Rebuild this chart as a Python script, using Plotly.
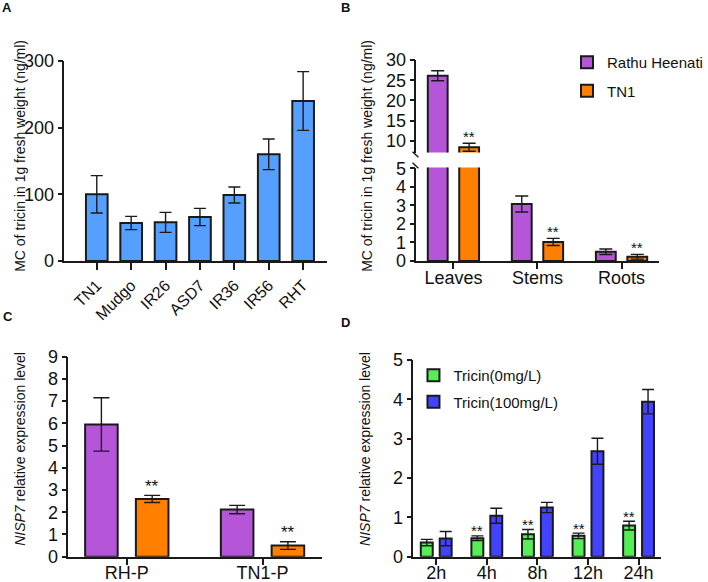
import plotly.graph_objects as go

# ---------------- data ----------------
a_cats = ["TN1", "Mudgo", "IR26", "ASD7", "IR36", "IR56", "RHT"]
a_vals = [100, 57, 58, 66, 99, 160, 240]
a_err = [28, 10, 15, 13, 12, 23, 44]

b_cats = ["Leaves", "Stems", "Roots"]
b_rh = [26.1, 3.08, 0.5]
b_rh_err = [1.25, 0.43, 0.15]
b_tn1 = [8.4, 1.03, 0.23]
b_tn1_err = [1.0, 0.19, 0.13]
b_sig = ["**", "**", "**"]

c_cats = ["RH-P", "TN1-P"]
c_purple = [5.95, 2.12]
c_purple_err = [1.2, 0.19]
c_orange = [2.6, 0.5]
c_orange_err = [0.16, 0.17]
c_sig = ["**", "**"]

d_cats = ["2h", "4h", "8h", "12h", "24h"]
d_green = [0.36, 0.47, 0.57, 0.53, 0.79]
d_green_err = [0.08, 0.06, 0.12, 0.07, 0.11]
d_blue = [0.46, 1.04, 1.25, 2.68, 3.94]
d_blue_err = [0.18, 0.19, 0.13, 0.33, 0.31]
d_sig = ["", "**", "**", "**", "**"]

# ---------------- style ----------------
W, H = 708, 582
FONT = "Liberation Sans, Arial, sans-serif"
BLUE_A = "#55A0FF"
PURPLE = "#B555D8"
ORANGE = "#FF8000"
GREEN = "#55EE55"
BLUE_D = "#4242FF"
LINE = "#1a1a1a"

BW = 0.236   # grouped bar width (category units)
BO = 0.187   # grouped bar centre offset


def px_x(p):
    return p / W


def px_y(p):
    return 1 - p / H


fig = go.Figure()
n_a = list(range(len(a_cats)))
n_b = list(range(len(b_cats)))
n_c = list(range(len(c_cats)))
n_d = list(range(len(d_cats)))


def err(arr, w):
    return dict(type="data", array=arr, color=LINE, thickness=1.4, width=w)


bar_line = dict(color=LINE, width=2)

# Panel A
fig.add_trace(go.Bar(x=n_a, y=a_vals, width=0.63, marker=dict(color=BLUE_A, line=bar_line),
                     error_y=err(a_err, 6), xaxis="x", yaxis="y", showlegend=False))

# Panel B (lower and upper segments)
for xa, ya, show in (("x2", "y2", True), ("x3", "y3", False)):
    fig.add_trace(go.Bar(x=n_b, y=b_rh, width=BW, offset=-BO - BW / 2,
                         marker=dict(color=PURPLE, line=bar_line), error_y=err(b_rh_err, 6.5),
                         xaxis=xa, yaxis=ya, name="Rathu Heenati", showlegend=show,
                         legendgroup="rh"))
    fig.add_trace(go.Bar(x=n_b, y=b_tn1, width=BW, offset=BO - BW / 2,
                         marker=dict(color=ORANGE, line=bar_line), error_y=err(b_tn1_err, 6.5),
                         xaxis=xa, yaxis=ya, name="TN1", showlegend=show, legendgroup="tn1"))

# Panel C
fig.add_trace(go.Bar(x=n_c, y=c_purple, width=0.24, offset=-BO - 0.12,
                     marker=dict(color=PURPLE, line=bar_line), error_y=err(c_purple_err, 8),
                     xaxis="x4", yaxis="y4", showlegend=False))
fig.add_trace(go.Bar(x=n_c, y=c_orange, width=0.24, offset=BO - 0.12,
                     marker=dict(color=ORANGE, line=bar_line), error_y=err(c_orange_err, 8),
                     xaxis="x4", yaxis="y4", showlegend=False))

# Panel D
fig.add_trace(go.Bar(x=n_d, y=d_green, width=BW, offset=-BO - BW / 2,
                     marker=dict(color=GREEN, line=bar_line), error_y=err(d_green_err, 6),
                     xaxis="x5", yaxis="y5", name="Tricin(0mg/L)", legend="legend2",
                     legendgroup="g0"))
fig.add_trace(go.Bar(x=n_d, y=d_blue, width=BW, offset=BO - BW / 2,
                     marker=dict(color=BLUE_D, line=bar_line), error_y=err(d_blue_err, 6),
                     xaxis="x5", yaxis="y5", name="Tricin(100mg/L)", legend="legend2",
                     legendgroup="g1"))

# ---------------- axes ----------------
common = dict(showline=True, linecolor=LINE, linewidth=1.5, ticks="outside",
              tickcolor=LINE, tickwidth=1.5, showgrid=False, zeroline=False,
              automargin=False, tickfont=dict(family=FONT, size=18, color="#111"))
xfont = dict(family=FONT, size=18, color="#111")


def xax(dom, rng, vals, text, anchor, ticklen=7, **kw):
    d = dict(common)
    d.update(domain=[px_x(dom[0]), px_x(dom[1])], range=rng, tickvals=vals,
             ticktext=text, anchor=anchor, ticklen=ticklen)
    d.update(kw)
    return d


def yax(dom, rng, anchor, **kw):
    d = dict(common)
    d.update(domain=[px_y(dom[1]), px_y(dom[0])], range=rng, anchor=anchor, ticklen=5)
    d.update(kw)
    return d


fig.update_layout(
    template="none",
    xaxis=xax((65, 330), [-0.94, 6.7], n_a, a_cats, "y", tickangle=-45,
              tickfont=dict(family=FONT, size=16, color="#111")),
    yaxis=yax((61, 261), [0, 300], "x", dtick=100),
    xaxis2=xax((420, 665), [-0.44, 2.45], n_b, b_cats, "y2", ticklen=6,
               tickfont=xfont, ticklabelstandoff=-6),
    yaxis2=yax((167.5, 261), [0, 5.05], "x2", tickvals=[0, 1, 2, 3, 4, 5]),
    xaxis3=dict(domain=[px_x(420), px_x(665)], range=[-0.44, 2.45], anchor="y3",
                visible=False),
    yaxis3=yax((60, 152.5), [7.1, 30], "x3", tickvals=[10, 15, 20, 25, 30]),
    xaxis4=xax((69, 325), [-0.43, 1.44], n_c, c_cats, "y4", tickfont=xfont,
               ticklabelstandoff=-8),
    yaxis4=yax((356.7, 556.7), [0, 9], "x4", dtick=1),
    xaxis5=xax((417, 667), [-0.45, 4.45], n_d, d_cats, "y5", tickfont=xfont,
               ticklabelstandoff=-8),
    yaxis5=yax((360, 556.7), [0, 5], "x5", dtick=1),
)

# ---------------- annotations ----------------
ann = []


def txt(x, y, text, size, angle=0, bold=False, **kw):
    d = dict(x=x, y=y, xref="paper", yref="paper", text=("<b>%s</b>" % text) if bold else text,
             showarrow=False, textangle=angle, xanchor="center", yanchor="middle",
             font=dict(family=FONT, size=size, color="#111"))
    d.update(kw)
    ann.append(d)


# panel letters
txt(px_x(7), px_y(8), "A", 13, bold=True)
txt(px_x(348), px_y(8), "B", 13, bold=True)
txt(px_x(8), px_y(316), "C", 13, bold=True)
txt(px_x(348), px_y(322), "D", 13, bold=True)

# y titles
ytitle_ab = "MC of tricin in 1g fresh weight (ng/ml)"
ytitle_cd = "<i>NISP7</i> relative expression level"
txt(px_x(20), px_y(156), ytitle_ab, 14, angle=-90)
txt(px_x(370), px_y(156), ytitle_ab, 14, angle=-90)
txt(px_x(20), px_y(449), ytitle_cd, 14, angle=-90)
txt(px_x(368), px_y(449), ytitle_cd, 14, angle=-90)

# significance marks
sigfont = dict(family=FONT, size=15, color="#111")
for i, s in enumerate(b_sig):
    top = b_tn1[i] + b_tn1_err[i]
    ya = "y3" if top > 5.05 else "y2"
    xa = "x3" if ya == "y3" else "x2"
    ann.append(dict(x=i + BO, y=top, xref=xa, yref=ya, text=s, showarrow=False,
                    yanchor="middle", yshift=7, font=sigfont))
for i, s in enumerate(c_sig):
    ann.append(dict(x=i + BO, y=c_orange[i] + c_orange_err[i], xref="x4", yref="y4", text=s,
                    showarrow=False, yanchor="middle", yshift=9,
                    font=dict(family=FONT, size=17, color="#111")))
for i, s in enumerate(d_sig):
    if s:
        ann.append(dict(x=i - BO, y=d_green[i] + d_green_err[i], xref="x5", yref="y5", text=s,
                        showarrow=False, yanchor="middle", yshift=5,
                        font=dict(family=FONT, size=15, color="#111")))

# axis-break slashes for panel B
shapes = []
for y0 in (151.7, 162.7):
    shapes.append(dict(type="line", xref="paper", yref="paper",
                       x0=px_x(416), x1=px_x(422), y0=px_y(y0), y1=px_y(y0 + 5.6),
                       line=dict(color=LINE, width=1.4)))

fig.update_layout(
    annotations=ann,
    shapes=shapes,
    width=W, height=H, autosize=False,
    margin=dict(l=0, r=0, t=0, b=0, pad=0),
    paper_bgcolor="white", plot_bgcolor="white",
    barmode="overlay",
    font=dict(family=FONT, color="#111"),
    showlegend=True,
    legend=dict(x=px_x(572), y=px_y(46), xanchor="left", yanchor="top",
                font=dict(family=FONT, size=15, color="#111"), tracegroupgap=6,
                bgcolor="rgba(0,0,0,0)", borderwidth=0),
    legend2=dict(x=px_x(417), y=px_y(359), xanchor="left", yanchor="top",
                 font=dict(family=FONT, size=15, color="#111"), tracegroupgap=4,
                 bgcolor="rgba(0,0,0,0)", borderwidth=0),
)

fig.write_html("out.html", config={"displayModeBar": False},
               post_script="document.body.style.margin='0';")
